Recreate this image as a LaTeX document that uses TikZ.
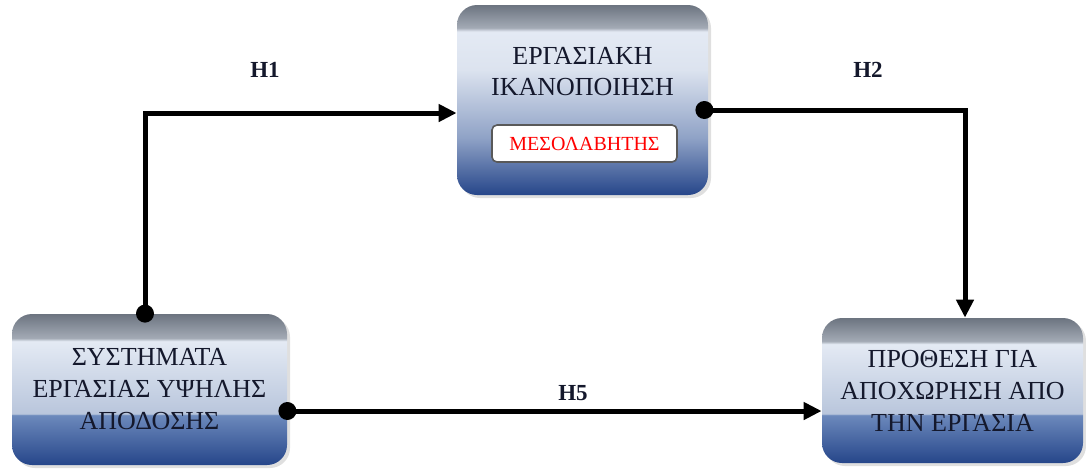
\documentclass[tikz,border=0pt]{standalone}
\usepackage{fontspec}
\setmainfont{Liberation Serif}
\usetikzlibrary{arrows.meta,shadows}
\definecolor{bb}{HTML}{26468A}
\definecolor{bm}{HTML}{6C89BC}
\definecolor{bl}{HTML}{B9C6DC}
\definecolor{bw}{HTML}{E4EAF4}
\definecolor{gl}{HTML}{A3AAB5}
\definecolor{gd}{HTML}{6C7480}
\definecolor{tm}{HTML}{8FA2C6}
\definecolor{tl}{HTML}{DCE3EF}
\definecolor{txt}{HTML}{14182C}
\pgfdeclareverticalshading{boxshade}{100bp}{color(0bp)=(bb); color(25bp)=(bb); color(41.5bp)=(bm); color(42bp)=(bl); color(66bp)=(bw); color(67bp)=(gl); color(75bp)=(gd); color(100bp)=(gd)}
\pgfdeclareverticalshading{topshade}{100bp}{color(0bp)=(bb); color(25bp)=(bb); color(40bp)=(tm); color(58bp)=(tl); color(68bp)=(bw); color(69bp)=(gl); color(75bp)=(gd); color(100bp)=(gd)}
\tikzset{
  x=0.5pt, y=-0.5pt,
  bigbox/.style={rounded corners=10pt, shading=boxshade, inner sep=0pt, align=center,
    text=txt, font=\fontsize{13}{16}\selectfont,
    drop shadow={opacity=0.25, shadow xshift=1.5pt, shadow yshift=-1.5pt}},
  medbox/.style={rounded corners=2.5pt, draw=black!65, line width=0.8pt, fill=white,
    text=red, font=\fontsize{10}{11}\selectfont, minimum width=92.5pt, minimum height=18.5pt, inner sep=0pt},
  hlabel/.style={font=\fontsize{11.5}{13}\selectfont\bfseries, text=txt},
  conn/.style={line width=2.5pt, line cap=butt, -{Triangle[length=9pt,width=8.5pt]}},
  dot/.style={fill=black}
}
\begin{document}
\begin{tikzpicture}
\useasboundingbox (0,0) rectangle (1086,468);
% boxes
\node[bigbox, shading=topshade, minimum width=125.5pt, minimum height=95pt] (topbox) at (582.5,100) {};
\node[text=txt, font=\fontsize{13}{15.5}\selectfont, align=center] (toptext) at (582.5,72) {ΕΡΓΑΣΙΑΚΗ\\ΙΚΑΝΟΠΟΙΗΣΗ};
\node[medbox] (med) at (584.5,143.5) {ΜΕΣΟΛΑΒΗΤΗΣ};
\node[bigbox, minimum width=137.5pt, minimum height=75.5pt] (leftbox) at (149.5,389.5) {ΣΥΣΤΗΜΑΤΑ\\ΕΡΓΑΣΙΑΣ ΥΨΗΛΗΣ\\ΑΠΟΔΟΣΗΣ};
\node[bigbox, minimum width=130.5pt, minimum height=72.5pt] (rightbox) at (952.5,390.5) {ΠΡΟΘΕΣΗ ΓΙΑ\\ΑΠΟΧΩΡΗΣΗ ΑΠΟ\\ΤΗΝ ΕΡΓΑΣΙΑ};
% connector helper coordinates
\coordinate (h1s) at (leftbox.north -| 145,0);
\coordinate (h1y) at (0,113);
\coordinate (h2y) at (0,110);
\coordinate (h2x) at (965,0);
\coordinate (h5y) at (0,411);
% connectors
\draw[conn] (h1s) |- (topbox.west |- h1y);
\draw[conn] (topbox.east |- h2y) -| (rightbox.north -| h2x);
\draw[conn] (leftbox.east |- h5y) -- (rightbox.west |- h5y);
% dots
\fill[dot] (h1s) circle (4.5pt);
\fill[dot] ([xshift=-2pt]topbox.east |- h2y) circle (4.5pt);
\fill[dot] (leftbox.east |- h5y) circle (4.5pt);
% labels
\node[hlabel] (l1) at (265,70) {H1};
\node[hlabel] (l2) at (868,70) {H2};
\node[hlabel] (l5) at (573,393) {H5};
\end{tikzpicture}
\end{document}
